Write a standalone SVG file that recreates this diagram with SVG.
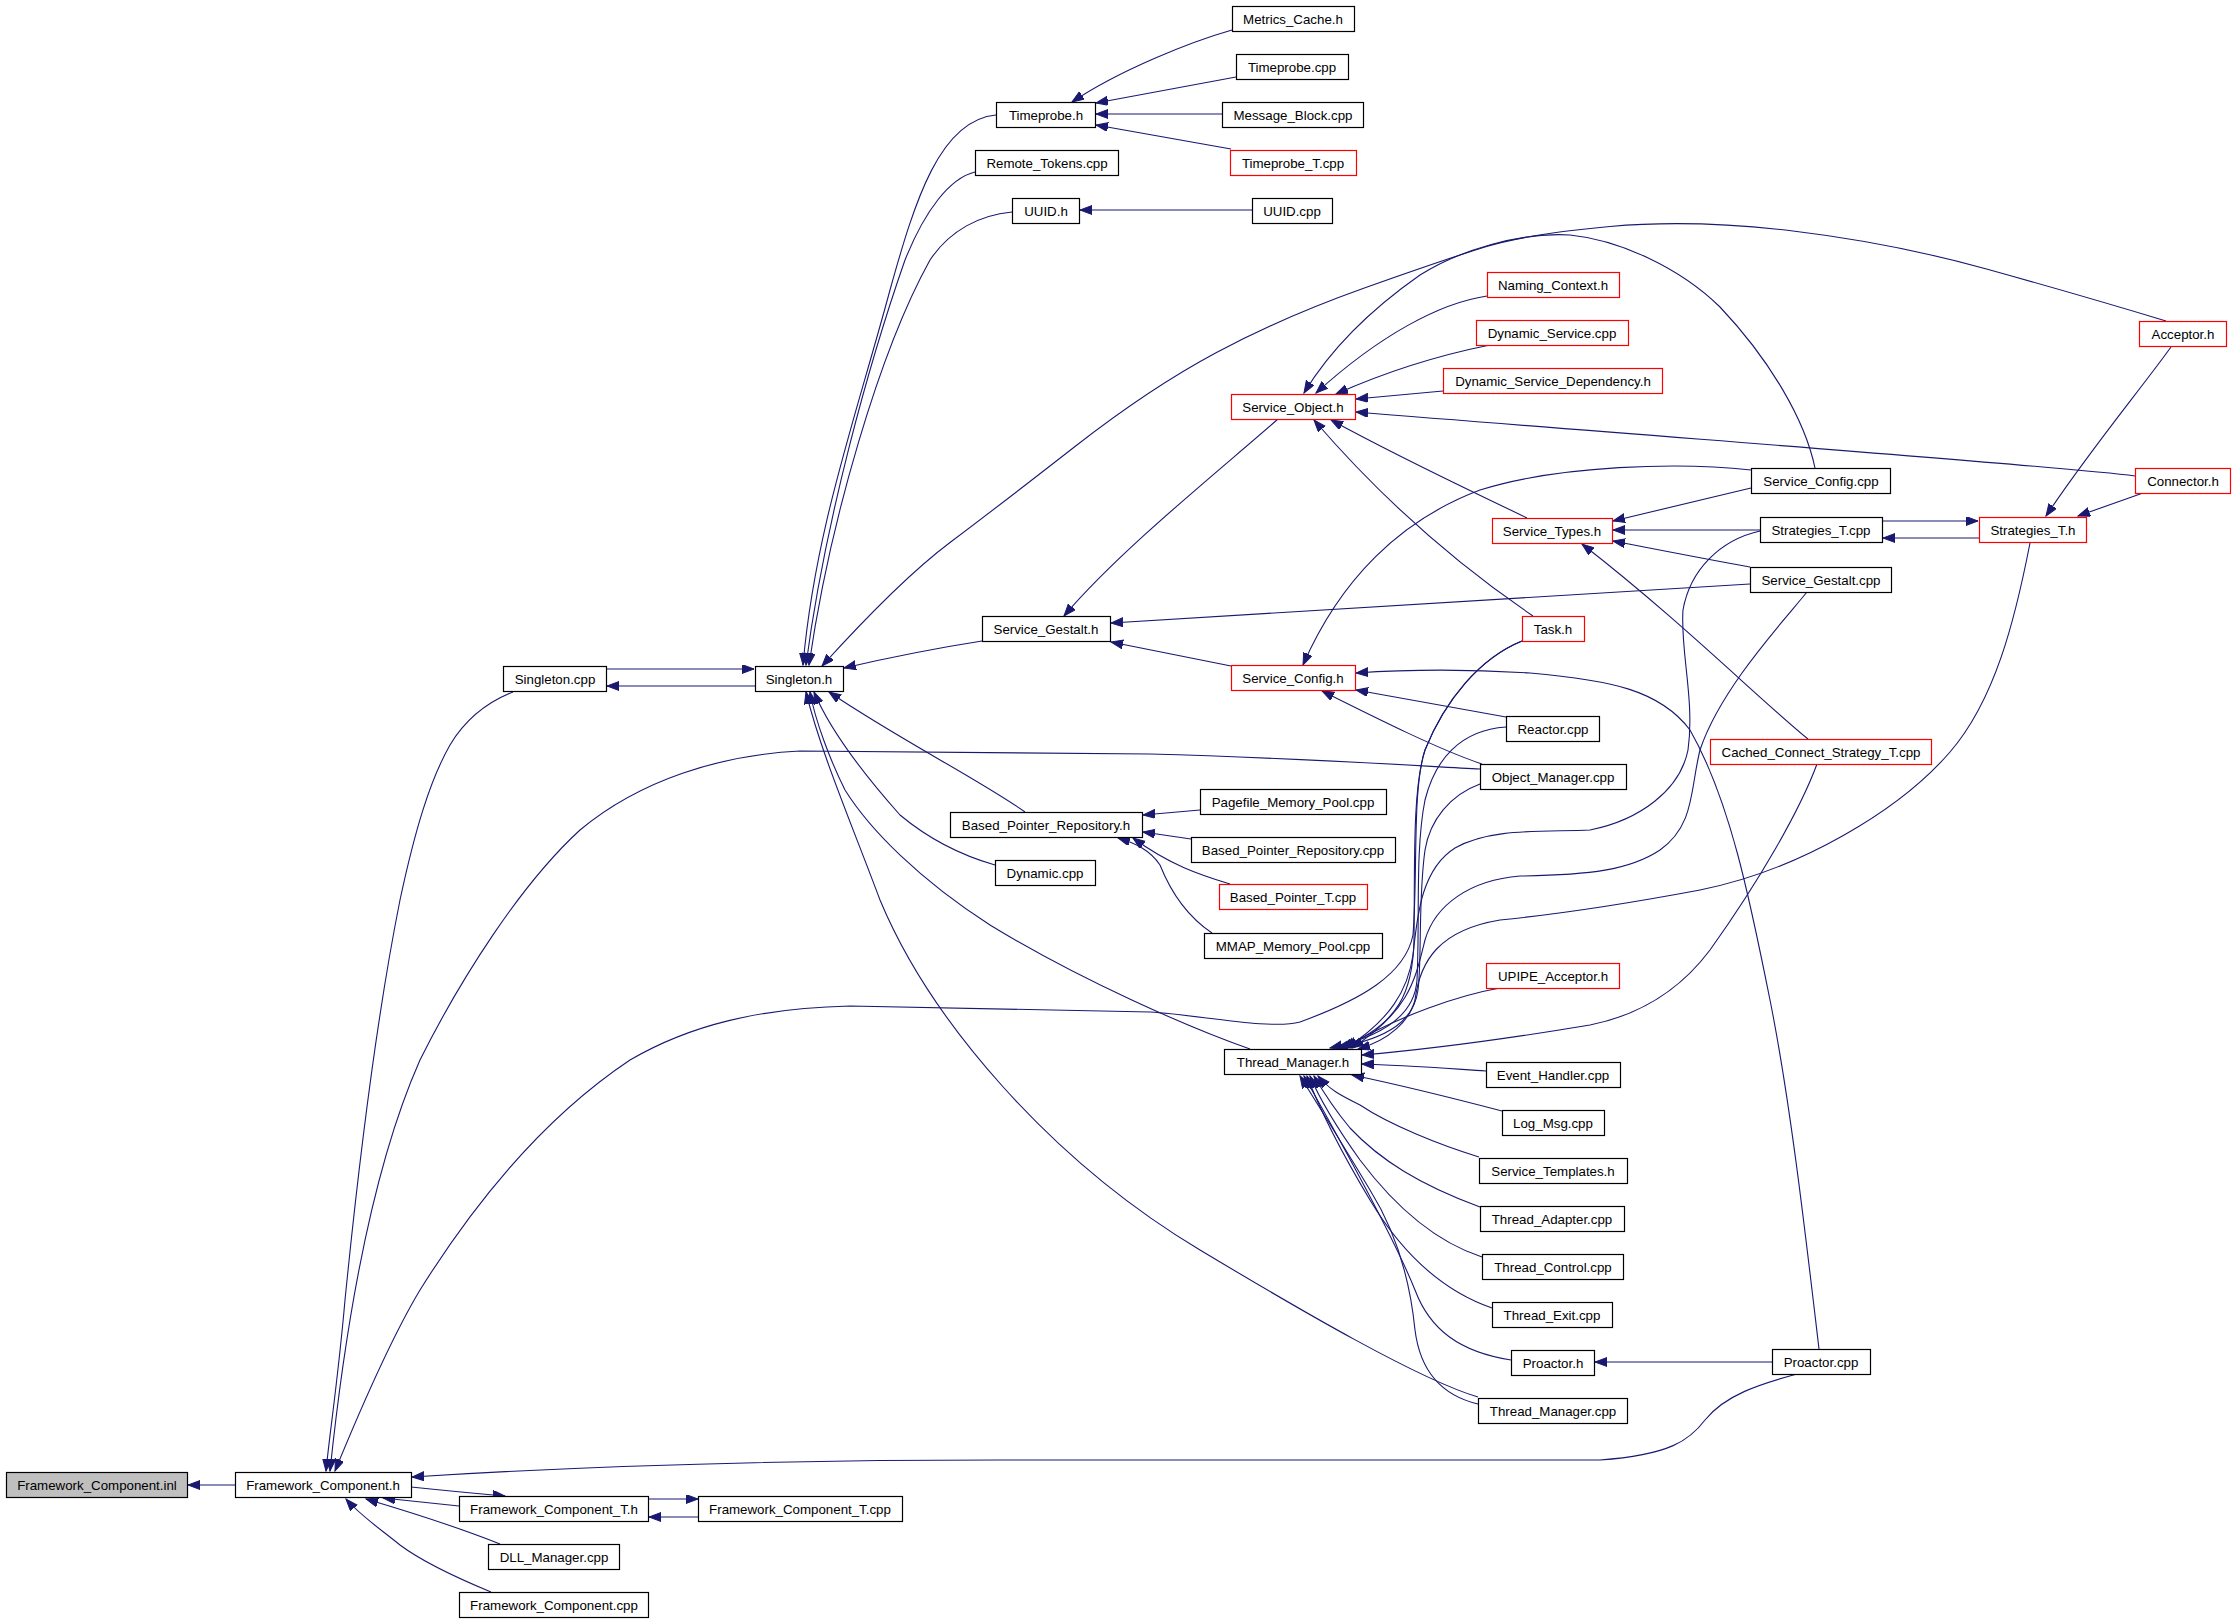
<svg xmlns="http://www.w3.org/2000/svg" width="2235" height="1621" viewBox="0 0 2235 1621">
<style>
.node rect{fill:#ffffff;stroke:#000000;stroke-width:1.2}
.node.red rect{stroke:#ff0000}
.node.root rect{fill:#bfbfbf}
.node text{font-family:"Liberation Sans",Arial,sans-serif;font-size:13.3px;text-anchor:middle;fill:#000000}
.edges path{fill:none;stroke:#191970;stroke-width:1.1;marker-end:url(#ah)}
</style>
<defs>
<marker id="ah" markerUnits="userSpaceOnUse" markerWidth="13" markerHeight="10" refX="12" refY="4.5" orient="auto" viewBox="0 0 13 10">
<path d="M0,0 L12,4.5 L0,9 z" fill="#191970" stroke="#191970" stroke-width="1"/>
</marker>
</defs>
<rect x="0" y="0" width="2235" height="1621" fill="#ffffff"/>
<g class="edges" id="connectors">
<path d="M235,1485 L188,1485"/>
<path d="M459,1506 L383,1498"/>
<path d="M411,1487 C440,1490 470,1493 505,1496"/>
<path d="M648,1499 L698,1499"/>
<path d="M698,1517 L649,1517"/>
<path d="M500,1544 C470,1532 420,1515 366,1499"/>
<path d="M491,1592 C450,1575 420,1560 400,1545 C375,1525 360,1515 346,1499"/>
<path d="M1797,1374 C1760,1384 1725,1395 1705,1420 C1690,1440 1670,1455 1600,1460 L1000,1460 C800,1460 600,1465 412,1477"/>
<path d="M513,692 C480,705 462,725 450,745 C430,780 415,830 400,900 C380,1000 360,1150 345,1300 C338,1380 330,1430 326,1471"/>
<path d="M1480,769 C1420,766 1300,758 1150,754 L800,751 C720,755 640,780 580,830 C520,885 460,980 420,1060 C380,1150 350,1280 330,1471"/>
<path d="M1522,641 C1480,658 1445,700 1425,750 C1412,790 1418,870 1413,935 C1405,975 1360,1000 1300,1022 C1270,1030 1200,1015 1150,1012 L850,1006 C760,1008 690,1025 630,1060 C540,1120 470,1210 420,1290 C390,1340 360,1410 335,1471"/>
<path d="M606,669 L754,669"/>
<path d="M755,686 L607,686"/>
<path d="M982,641 C950,646 900,655 844,668"/>
<path d="M996,115 C940,120 915,200 890,290 C855,420 815,530 803,665"/>
<path d="M975,172 C950,178 925,210 905,260 C870,360 825,520 806,665"/>
<path d="M1012,212 C980,215 950,230 930,260 C880,350 830,520 809,665"/>
<path d="M2166,321 Q2080,295 1986.5,269 Q1893,243 1793,231 Q1693,219 1610,226.5 Q1527,234 1485,247 Q1443,260 1363,288.5 Q1283,317 1216.5,352.5 Q1150,388 1075,446.5 Q1000,505 950,542.5 Q900,580 822,666"/>
<path d="M1025,812 C980,780 900,740 829,692"/>
<path d="M995,865 C960,855 930,840 900,815 C860,770 830,730 814,692"/>
<path d="M1250,1049 C1190,1028 1080,980 990,925 C920,880 870,830 845,790 C830,760 815,720 810,692"/>
<path d="M1478,1397 C1420,1380 1300,1310 1200,1250 C1050,1160 930,1020 880,900 C850,820 820,750 806,692"/>
<path d="M1232,30 C1190,42 1120,70 1072,102"/>
<path d="M1236,77 L1096,103"/>
<path d="M1222,114 L1096,114"/>
<path d="M1231,149 L1096,125"/>
<path d="M1252,210 L1080,210"/>
<path d="M1487,296 C1440,303 1380,335 1316,393"/>
<path d="M1490,345 C1440,355 1390,370 1336,394"/>
<path d="M1443,391 L1356,399"/>
<path d="M2135,476 C2050,465 1700,440 1356,412"/>
<path d="M1815,468 C1805,420 1770,360 1720,307 C1680,268 1620,240 1570,235 C1520,232 1460,250 1420,275 C1370,310 1330,350 1304,393"/>
<path d="M1527,518 C1480,495 1410,463 1331,420"/>
<path d="M1533,616 C1480,580 1400,520 1314,420"/>
<path d="M1278,419 C1220,470 1120,550 1064,616"/>
<path d="M1750,584 L1111,623"/>
<path d="M1231,666 C1200,660 1160,652 1111,642"/>
<path d="M1751,470 C1680,462 1560,465 1480,490 C1400,520 1340,580 1303,665"/>
<path d="M1819,1349 C1805,1230 1790,1100 1770,1000 C1750,900 1730,800 1690,730 C1660,690 1610,680 1530,673 C1450,668 1400,670 1356,673"/>
<path d="M1506,717 L1356,690"/>
<path d="M1482,764 C1440,750 1380,720 1322,691"/>
<path d="M1751,488 L1613,521"/>
<path d="M1760,530 L1613,530"/>
<path d="M1750,567 C1700,558 1660,550 1613,541"/>
<path d="M1808,739 C1760,700 1680,620 1582,544"/>
<path d="M2171,347 C2140,390 2090,450 2046,516"/>
<path d="M2143,493 L2078,516"/>
<path d="M1882,521 L1978,521"/>
<path d="M1979,538 L1883,538"/>
<path d="M2030,543 C2015,620 1995,700 1950,752 C1900,810 1800,870 1700,890 C1620,905 1550,915 1500,920 C1440,930 1420,960 1415,1000 C1410,1020 1390,1040 1358,1049"/>
<path d="M1817,764 C1800,810 1760,880 1710,950 C1680,990 1640,1015 1590,1025 C1500,1040 1420,1050 1362,1055"/>
<path d="M1486,1071 C1440,1068 1400,1065 1362,1064"/>
<path d="M1502,1111 C1460,1100 1400,1085 1352,1075"/>
<path d="M1479,1157 C1440,1145 1390,1125 1360,1105 C1340,1095 1330,1090 1318,1076"/>
<path d="M1480,1207 C1420,1185 1380,1160 1350,1128 C1335,1110 1325,1095 1314,1076"/>
<path d="M1482,1257 C1430,1240 1390,1200 1360,1160 C1335,1125 1320,1100 1310,1076"/>
<path d="M1492,1308 C1440,1290 1400,1250 1370,1200 C1340,1150 1320,1110 1307,1076"/>
<path d="M1511,1360 C1460,1352 1430,1330 1415,1290 C1395,1240 1340,1140 1304,1076"/>
<path d="M1478,1404 C1440,1395 1420,1370 1415,1330 C1410,1280 1395,1230 1370,1190 C1340,1140 1315,1100 1300,1076"/>
<path d="M1772,1362 L1595,1362"/>
<path d="M1500,988 C1460,995 1400,1015 1344,1048"/>
<path d="M1506,727 C1460,730 1435,760 1425,800 C1415,850 1420,920 1417,980 C1415,1010 1390,1035 1330,1048"/>
<path d="M1480,784 C1450,795 1430,820 1425,850 C1418,900 1422,960 1418,990 C1414,1020 1390,1038 1336,1048"/>
<path d="M1522,641 C1480,658 1445,700 1425,750 C1412,790 1415,870 1414,940 C1413,990 1400,1025 1340,1048"/>
<path d="M1760,531 C1720,540 1690,570 1683,610 C1680,650 1695,700 1688,750 C1680,790 1640,820 1590,830 C1540,832 1490,828 1455,848 C1420,870 1417,920 1413,955 C1408,990 1390,1020 1346,1048"/>
<path d="M1807,592 C1780,625 1720,690 1700,750 C1690,790 1695,825 1660,850 C1630,870 1590,875 1520,876 C1470,880 1435,905 1425,940 C1415,980 1410,1010 1352,1048"/>
<path d="M1200,810 L1143,815"/>
<path d="M1191,839 L1143,832"/>
<path d="M1230,884 C1200,875 1170,865 1133,838"/>
<path d="M1212,933 C1185,915 1170,890 1160,865 C1150,850 1135,843 1118,838"/>
</g>
<g id="n_inl" class="node root"><rect x="6.5" y="1472.5" width="181" height="25"/><text x="97" y="1489.5">Framework_Component.inl</text></g>
<g id="n_fch" class="node"><rect x="235.5" y="1472.5" width="176" height="25"/><text x="323" y="1489.5">Framework_Component.h</text></g>
<g id="n_fcth" class="node"><rect x="459.5" y="1496.5" width="189" height="25"/><text x="554" y="1513.5">Framework_Component_T.h</text></g>
<g id="n_fctcpp" class="node"><rect x="698.5" y="1496.5" width="204" height="25"/><text x="800" y="1513.5">Framework_Component_T.cpp</text></g>
<g id="n_dll" class="node"><rect x="488.5" y="1544.5" width="131" height="25"/><text x="554" y="1561.5">DLL_Manager.cpp</text></g>
<g id="n_fccpp" class="node"><rect x="459.5" y="1592.5" width="189" height="25"/><text x="554" y="1609.5">Framework_Component.cpp</text></g>
<g id="n_scpp" class="node"><rect x="503.5" y="666.5" width="103" height="25"/><text x="555" y="683.5">Singleton.cpp</text></g>
<g id="n_sh" class="node"><rect x="755.5" y="666.5" width="88" height="25"/><text x="799" y="683.5">Singleton.h</text></g>
<g id="n_tph" class="node"><rect x="996.5" y="102.5" width="99" height="25"/><text x="1046" y="119.5">Timeprobe.h</text></g>
<g id="n_rt" class="node"><rect x="975.5" y="150.5" width="143" height="25"/><text x="1047" y="167.5">Remote_Tokens.cpp</text></g>
<g id="n_uuidh" class="node"><rect x="1012.5" y="198.5" width="67" height="25"/><text x="1046" y="215.5">UUID.h</text></g>
<g id="n_mc" class="node"><rect x="1232.5" y="6.5" width="122" height="25"/><text x="1293" y="23.5">Metrics_Cache.h</text></g>
<g id="n_tpcpp" class="node"><rect x="1236.5" y="54.5" width="112" height="25"/><text x="1292" y="71.5">Timeprobe.cpp</text></g>
<g id="n_mb" class="node"><rect x="1222.5" y="102.5" width="141" height="25"/><text x="1293" y="119.5">Message_Block.cpp</text></g>
<g id="n_tpt" class="node red"><rect x="1230.5" y="150.5" width="126" height="25"/><text x="1293" y="167.5">Timeprobe_T.cpp</text></g>
<g id="n_uuidcpp" class="node"><rect x="1252.5" y="198.5" width="80" height="25"/><text x="1292" y="215.5">UUID.cpp</text></g>
<g id="n_sgh" class="node"><rect x="982.5" y="616.5" width="128" height="25"/><text x="1046" y="633.5">Service_Gestalt.h</text></g>
<g id="n_soh" class="node red"><rect x="1231.5" y="394.5" width="124" height="25"/><text x="1293" y="411.5">Service_Object.h</text></g>
<g id="n_nc" class="node red"><rect x="1487.5" y="272.5" width="132" height="25"/><text x="1553" y="289.5">Naming_Context.h</text></g>
<g id="n_ds" class="node red"><rect x="1476.5" y="320.5" width="152" height="25"/><text x="1552" y="337.5">Dynamic_Service.cpp</text></g>
<g id="n_dsd" class="node red"><rect x="1443.5" y="368.5" width="219" height="25"/><text x="1553" y="385.5">Dynamic_Service_Dependency.h</text></g>
<g id="n_sth" class="node red"><rect x="1492.5" y="518.5" width="120" height="25"/><text x="1552" y="535.5">Service_Types.h</text></g>
<g id="n_task" class="node red"><rect x="1522.5" y="616.5" width="62" height="25"/><text x="1553" y="633.5">Task.h</text></g>
<g id="n_sch" class="node red"><rect x="1231.5" y="665.5" width="124" height="25"/><text x="1293" y="682.5">Service_Config.h</text></g>
<g id="n_reactor" class="node"><rect x="1506.5" y="716.5" width="93" height="25"/><text x="1553" y="733.5">Reactor.cpp</text></g>
<g id="n_om" class="node"><rect x="1480.5" y="764.5" width="146" height="25"/><text x="1553" y="781.5">Object_Manager.cpp</text></g>
<g id="n_bprh" class="node"><rect x="950.5" y="812.5" width="192" height="25"/><text x="1046" y="829.5">Based_Pointer_Repository.h</text></g>
<g id="n_pmp" class="node"><rect x="1200.5" y="789.5" width="186" height="25"/><text x="1293" y="806.5">Pagefile_Memory_Pool.cpp</text></g>
<g id="n_bprcpp" class="node"><rect x="1191.5" y="837.5" width="204" height="25"/><text x="1293" y="854.5">Based_Pointer_Repository.cpp</text></g>
<g id="n_dyn" class="node"><rect x="995.5" y="860.5" width="100" height="25"/><text x="1045" y="877.5">Dynamic.cpp</text></g>
<g id="n_bpt" class="node red"><rect x="1219.5" y="884.5" width="148" height="25"/><text x="1293" y="901.5">Based_Pointer_T.cpp</text></g>
<g id="n_mmap" class="node"><rect x="1204.5" y="933.5" width="178" height="25"/><text x="1293" y="950.5">MMAP_Memory_Pool.cpp</text></g>
<g id="n_upipe" class="node red"><rect x="1486.5" y="963.5" width="133" height="25"/><text x="1553" y="980.5">UPIPE_Acceptor.h</text></g>
<g id="n_tmh" class="node"><rect x="1224.5" y="1049.5" width="137" height="25"/><text x="1293" y="1066.5">Thread_Manager.h</text></g>
<g id="n_eh" class="node"><rect x="1486.5" y="1062.5" width="134" height="25"/><text x="1553" y="1079.5">Event_Handler.cpp</text></g>
<g id="n_log" class="node"><rect x="1502.5" y="1110.5" width="102" height="25"/><text x="1553" y="1127.5">Log_Msg.cpp</text></g>
<g id="n_svt" class="node"><rect x="1479.5" y="1158.5" width="148" height="25"/><text x="1553" y="1175.5">Service_Templates.h</text></g>
<g id="n_ta" class="node"><rect x="1480.5" y="1206.5" width="144" height="25"/><text x="1552" y="1223.5">Thread_Adapter.cpp</text></g>
<g id="n_tc" class="node"><rect x="1482.5" y="1254.5" width="141" height="25"/><text x="1553" y="1271.5">Thread_Control.cpp</text></g>
<g id="n_te" class="node"><rect x="1492.5" y="1302.5" width="120" height="25"/><text x="1552" y="1319.5">Thread_Exit.cpp</text></g>
<g id="n_proh" class="node"><rect x="1511.5" y="1350.5" width="83" height="25"/><text x="1553" y="1367.5">Proactor.h</text></g>
<g id="n_tmcpp" class="node"><rect x="1478.5" y="1398.5" width="149" height="25"/><text x="1553" y="1415.5">Thread_Manager.cpp</text></g>
<g id="n_proc" class="node"><rect x="1772.5" y="1349.5" width="98" height="25"/><text x="1821" y="1366.5">Proactor.cpp</text></g>
<g id="n_acc" class="node red"><rect x="2139.5" y="321.5" width="87" height="25"/><text x="2183" y="338.5">Acceptor.h</text></g>
<g id="n_conn" class="node red"><rect x="2135.5" y="468.5" width="95" height="25"/><text x="2183" y="485.5">Connector.h</text></g>
<g id="n_sccpp" class="node"><rect x="1751.5" y="468.5" width="139" height="25"/><text x="1821" y="485.5">Service_Config.cpp</text></g>
<g id="n_stcpp" class="node"><rect x="1760.5" y="517.5" width="122" height="25"/><text x="1821" y="534.5">Strategies_T.cpp</text></g>
<g id="n_stth" class="node red"><rect x="1979.5" y="517.5" width="107" height="25"/><text x="2033" y="534.5">Strategies_T.h</text></g>
<g id="n_sgcpp" class="node"><rect x="1750.5" y="567.5" width="141" height="25"/><text x="1821" y="584.5">Service_Gestalt.cpp</text></g>
<g id="n_ccst" class="node red"><rect x="1710.5" y="739.5" width="221" height="25"/><text x="1821" y="756.5">Cached_Connect_Strategy_T.cpp</text></g>
</svg>
